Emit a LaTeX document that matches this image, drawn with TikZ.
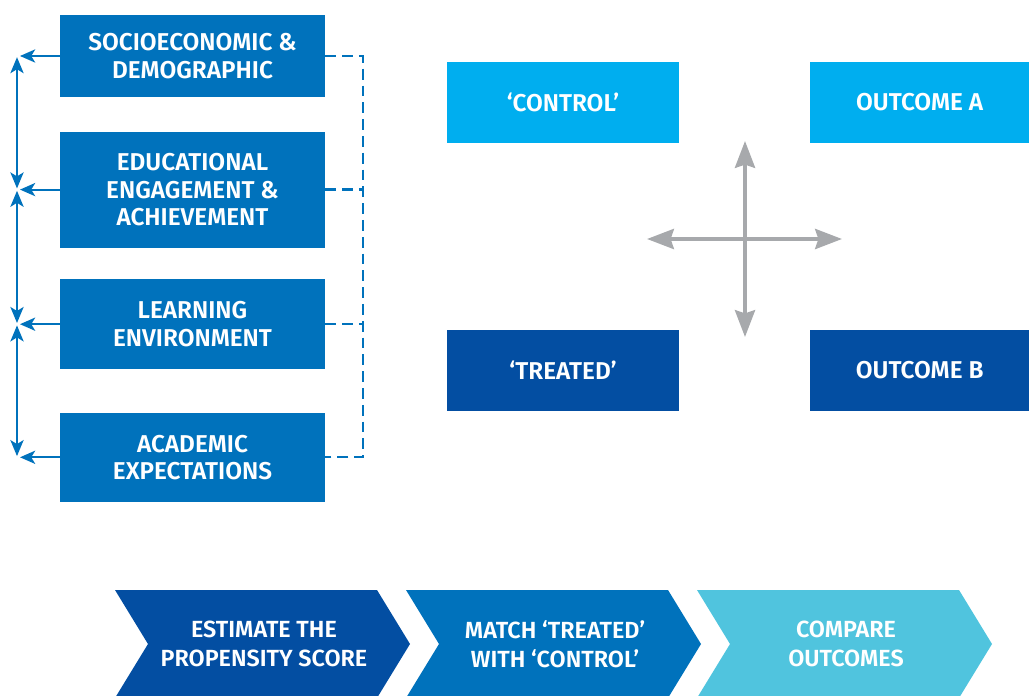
\documentclass[tikz,border=0pt]{standalone}
\usepackage{fontspec}
\setmainfont{Fira Sans}[UprightFont={* SemiBold}]
\usetikzlibrary{arrows.meta, positioning}
\definecolor{midblue}{RGB}{0,114,188}
\definecolor{deepblue}{RGB}{3,78,162}
\definecolor{skyblue}{RGB}{0,174,239}
\definecolor{paleblue}{RGB}{80,196,222}
\definecolor{crossgray}{RGB}{167,169,172}

\begin{document}
\begin{tikzpicture}[x=0.025cm, y=-0.025cm, font=\fontsize{17.3}{19.5}\selectfont,
    f/.style={fill=midblue, text=white, align=center, minimum width=6.625cm, inner sep=0pt},
    g/.style={text=white, align=center, minimum height=2.025cm, inner sep=0pt},
    arr/.style={-{Stealth[length=0.38cm, width=0.33cm, inset=0.1cm]}, midblue, line width=1.5pt},
    rail/.style={{Stealth[length=0.4cm, width=0.33cm, inset=0.1cm]}-{Stealth[length=0.4cm, width=0.33cm, inset=0.1cm]}, midblue, line width=1.5pt, shorten <=0.03cm, shorten >=0.03cm},
    dsh/.style={midblue, line width=1.6pt, dash pattern=on 0.27cm off 0.15cm},
    cross/.style={{Stealth[length=0.67cm, width=0.5cm, inset=0.08cm]}-{Stealth[length=0.67cm, width=0.5cm, inset=0.08cm]}, crossgray, line width=2.8pt},
    chev/.style={text=white, align=center, font=\fontsize{16.6}{20.5}\selectfont}]
    \useasboundingbox (0,0) rectangle (1029,695);

    % covariate boxes
    \node[f, minimum height=2.05cm] (socio) at (192.5,56) {SOCIOECONOMIC \&\\DEMOGRAPHIC};
    \node[f, minimum height=2.9cm, below=0.85cm of socio] (educ) {EDUCATIONAL\\ENGAGEMENT \&\\ACHIEVEMENT};
    \node[f, minimum height=2.25cm, below=0.775cm of educ] (learn) {LEARNING\\ENVIRONMENT};
    \node[f, minimum height=2.225cm, below=1.075cm of learn] (acad) {ACADEMIC\\EXPECTATIONS};

    \coordinate (lrail) at (17,0);
    \coordinate (rrail) at (363,0);
    \foreach \b in {socio, educ, learn, acad}
      \draw[arr] (\b.west) -- ([xshift=0.075cm]\b.west -| lrail);
    \draw[rail] (socio.west -| lrail) -- (educ.west -| lrail);
    \draw[rail] (educ.west -| lrail) -- (learn.west -| lrail);
    \draw[rail] (learn.west -| lrail) -- (acad.west -| lrail);

    \draw[dsh] (socio.east) -- (socio.east -| rrail) -- (acad.east -| rrail) -- (acad.east);
    \draw[dsh] (educ.east) -- (educ.east -| rrail);
    \draw[dsh] (learn.east) -- (learn.east -| rrail);

    % groups and outcomes
    \node[g, fill=skyblue, minimum width=5.8cm] (ctrl) at (563,102.5) {‘CONTROL’};
    \node[g, fill=skyblue, minimum width=5.5cm, right=3.25cm of ctrl] (outa) {OUTCOME A};
    \node[g, fill=deepblue, minimum width=5.8cm, below=4.65cm of ctrl] (treat) {‘TREATED’};
    \node[g, fill=deepblue, minimum width=5.5cm, right=3.25cm of treat] (outb) {OUTCOME B};

    \coordinate (cl) at (647,239);
    \coordinate (cr) at (842,239);
    \coordinate (ct) at (745,141);
    \coordinate (cb) at (745,337);
    \draw[cross] (cl) -- (cr);
    \draw[cross] (ct) -- (cb);

    % process steps
    \foreach \i/\col/\txt in {0/deepblue/{ESTIMATE THE\\PROPENSITY SCORE},
                              1/midblue/{MATCH ‘TREATED’\\WITH ‘CONTROL’},
                              2/paleblue/{COMPARE\\OUTCOMES}} {
      \fill[\col] (115+291*\i,590) -- ++(262,0) -- ++(33,54) -- ++(-33,54)
        -- ++(-262,0) -- ++(33,-54) -- cycle;
      \node[chev] (chev\i) at (264+291*\i,644) {\txt};
    }
\end{tikzpicture}
\end{document}
